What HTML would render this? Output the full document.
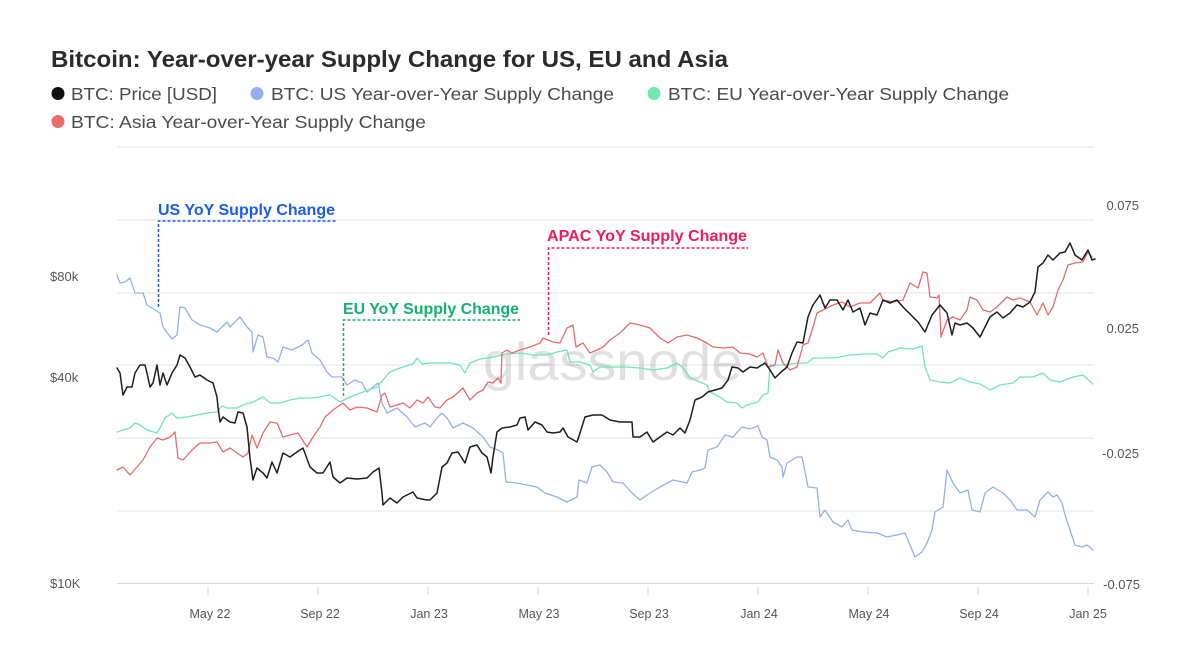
<!DOCTYPE html>
<html><head><meta charset="utf-8"><style>
html,body{margin:0;padding:0;background:#fff;}
svg{display:block;font-family:"Liberation Sans",sans-serif;}
</style></head><body>
<svg width="1192" height="671" viewBox="0 0 1192 671" xmlns="http://www.w3.org/2000/svg">
<rect width="1192" height="671" fill="#fff"/>
<text x="51" y="67" font-size="23" font-weight="bold" fill="#2b2b2b" textLength="677" lengthAdjust="spacingAndGlyphs">Bitcoin: Year-over-year Supply Change for US, EU and Asia</text>
<circle cx="58" cy="93.5" r="6.5" fill="#111"/>
<text x="71" y="100" font-size="17.5" fill="#4a4a4a" textLength="146" lengthAdjust="spacingAndGlyphs">BTC: Price [USD]</text>
<circle cx="257" cy="93.5" r="6.5" fill="#94b0ee"/>
<text x="271" y="100" font-size="17.5" fill="#4a4a4a" textLength="343" lengthAdjust="spacingAndGlyphs">BTC: US Year-over-Year Supply Change</text>
<circle cx="654" cy="93.5" r="6.5" fill="#6fe8ae"/>
<text x="668" y="100" font-size="17.5" fill="#4a4a4a" textLength="341" lengthAdjust="spacingAndGlyphs">BTC: EU Year-over-Year Supply Change</text>
<circle cx="58" cy="121.5" r="6.5" fill="#ea6b6b"/>
<text x="71" y="128" font-size="17.5" fill="#4a4a4a" textLength="355" lengthAdjust="spacingAndGlyphs">BTC: Asia Year-over-Year Supply Change</text>

<g stroke="#dde4e4" stroke-width="1">
<line x1="117" y1="147" x2="1094" y2="147"/>
<line x1="117" y1="220" x2="1094" y2="220"/>
<line x1="117" y1="293" x2="1094" y2="293"/>
<line x1="117" y1="365" x2="1094" y2="365"/>
<line x1="117" y1="438" x2="1094" y2="438"/>
<line x1="117" y1="511" x2="1094" y2="511"/>
<line x1="117" y1="583.5" x2="1094" y2="583.5" stroke="#d5dcdc"/>
</g>
<g stroke="#d4d4d4" stroke-width="1">
<line x1="208" y1="587" x2="208" y2="595"/>
<line x1="318" y1="587" x2="318" y2="595"/>
<line x1="428" y1="587" x2="428" y2="595"/>
<line x1="538" y1="587" x2="538" y2="595"/>
<line x1="648" y1="587" x2="648" y2="595"/>
<line x1="758" y1="587" x2="758" y2="595"/>
<line x1="868" y1="587" x2="868" y2="595"/>
<line x1="978" y1="587" x2="978" y2="595"/>
<line x1="1088" y1="587" x2="1088" y2="595"/>
</g>
<g font-size="12.5" fill="#555" text-anchor="middle">
<text x="210" y="618">May 22</text>
<text x="320" y="618">Sep 22</text>
<text x="429" y="618">Jan 23</text>
<text x="539" y="618">May 23</text>
<text x="649" y="618">Sep 23</text>
<text x="759" y="618">Jan 24</text>
<text x="869" y="618">May 24</text>
<text x="979" y="618">Sep 24</text>
<text x="1088" y="618">Jan 25</text>
</g>
<g font-size="13" fill="#555">
<text x="50" y="281">$80k</text>
<text x="50" y="382">$40k</text>
<text x="50" y="588">$10K</text>
</g>
<g font-size="13" fill="#555" text-anchor="end">
<text x="1139" y="210">0.075</text>
<text x="1139" y="333">0.025</text>
<text x="1139" y="458">-0.025</text>
<text x="1140" y="589">-0.075</text>
</g>

<text x="483" y="380" font-size="54" fill="#000" fill-opacity="0.12" textLength="260" lengthAdjust="spacingAndGlyphs">glassnode</text>

<g fill="none" stroke-linejoin="round" stroke-linecap="round">
<polyline stroke="#94b0ee" stroke-width="1.3" points="117,275 120,283 125,282 130,278 135,293 140,293 143,293 147,305 155,310 160,313 163,327 172,339 177,335 180,307 185,308 192,320 200,325 210,328 217,332 227,322 230,327 240,317 247,327 252,332 253,352 258,335 263,337 267,357 273,358 278,362 283,347 292,350 302,345 308,340 312,353 320,360 327,372 332,377 342,377 347,385 355,380 362,383 367,392 373,387 378,383 382,403 387,413 397,408 407,417 415,427 425,423 430,427 437,418 442,413 447,418 453,428 463,423 473,428 483,437 490,447 498,450 503,453 506,482 517,483 527,485 537,487 545,493 557,497 567,502 577,497 579,480 587,483 592,467 600,465 607,472 613,482 623,483 632,493 640,500 650,493 660,487 673,480 687,483 692,472 700,470 705,468 708,450 717,447 725,435 733,437 742,427 750,429 758,426 762,437 767,440 770,457 777,460 782,467 783,477 787,463 797,457 802,457 808,487 817,488 820,517 825,510 833,522 842,527 848,520 852,530 863,532 877,533 887,537 897,535 905,533 910,545 915,557 922,552 927,543 932,530 935,512 943,507 947,470 953,483 960,493 968,490 972,510 980,512 985,493 993,487 1003,493 1010,500 1017,510 1027,510 1035,517 1040,500 1048,492 1053,497 1057,495 1062,503 1065,515 1070,530 1075,545 1082,547 1087,545 1093,550"/>
<polyline stroke="#6fe8ae" stroke-width="1.3" points="117,432 123,430 130,428 135,423 140,425 147,430 157,433 160,428 165,418 172,413 177,418 187,417 197,415 207,413 217,412 222,406 227,408 237,408 243,405 253,402 263,397 270,403 280,403 290,400 300,398 310,398 320,397 330,395 340,402 350,397 363,392 377,387 383,380 390,372 400,368 413,364 417,358 422,364 430,363 437,363 450,363 460,365 465,373 470,363 480,359 493,357 507,354 520,353 533,355 547,355 557,352 567,350 570,362 580,362 590,365 593,372 600,367 613,367 627,367 640,368 653,370 667,368 677,363 683,368 690,378 700,382 707,385 710,392 720,397 727,402 737,403 742,408 747,405 758,402 763,395 768,393 770,365 783,365 797,363 807,363 813,358 827,358 840,357 850,355 863,354 877,354 883,358 888,352 900,348 913,349 922,346 925,367 930,380 940,382 950,383 960,378 970,382 980,384 990,390 1000,385 1013,383 1020,377 1033,377 1043,373 1050,380 1060,382 1073,377 1083,375 1093,384"/>
<polyline stroke="#ea6b6b" stroke-width="1.3" points="117,470 123,467 130,475 137,467 143,460 150,447 157,438 163,440 170,437 175,432 178,458 183,460 192,450 200,443 210,443 217,442 223,452 230,448 237,453 243,457 248,453 252,435 257,448 263,433 270,422 277,423 283,437 290,435 298,433 307,447 313,437 320,427 325,417 333,410 343,403 350,410 357,407 367,408 377,412 382,395 385,393 390,407 397,405 403,403 410,408 417,400 423,403 428,397 435,407 440,408 447,400 453,397 463,388 470,400 477,393 483,390 488,382 493,383 498,378 501,383 502,353 507,350 512,353 520,350 530,347 540,343 543,338 553,342 560,343 567,328 573,325 576,347 583,343 590,353 597,350 603,347 610,340 620,333 630,323 640,325 650,328 660,338 668,343 677,337 687,335 697,338 705,342 713,347 723,348 733,347 740,353 750,354 757,357 763,353 768,367 775,365 778,350 783,363 790,370 797,367 803,345 808,343 813,327 817,313 823,310 833,305 842,302 850,307 860,303 870,303 880,293 883,300 893,302 903,300 910,283 918,288 923,272 927,273 930,297 937,298 939,295 941,337 947,320 953,317 960,320 967,310 970,297 977,300 983,310 990,312 997,307 1007,297 1013,300 1020,298 1030,302 1037,315 1043,303 1048,315 1053,307 1058,290 1063,280 1068,265 1075,263 1083,262 1088,252 1092,257"/>
<polyline stroke="#1e1e1e" stroke-width="1.5" points="117,368 120,373 123,395 127,387 132,387 135,373 140,365 145,365 147,373 150,387 153,383 157,365 160,385 163,373 167,385 172,373 177,365 180,355 185,358 190,367 195,377 200,375 207,380 213,383 217,397 218,407 220,422 223,417 230,422 235,423 238,412 243,413 247,427 250,458 253,480 257,468 263,473 267,478 272,462 277,473 283,453 290,457 297,452 303,448 310,467 317,473 323,473 330,462 333,477 340,483 347,478 357,479 367,478 373,472 379,468 382,493 383,505 390,498 397,503 403,497 413,492 417,498 427,500 430,500 437,493 442,467 447,463 452,453 458,452 465,463 470,447 477,445 482,453 487,457 491,473 493,457 497,432 502,428 510,427 517,425 520,418 525,417 528,430 535,422 542,425 547,432 553,433 560,432 563,428 568,437 577,442 580,433 585,417 593,415 602,415 610,420 620,422 632,422 633,437 640,437 647,432 653,442 660,437 667,432 673,435 680,428 685,433 690,420 695,400 702,397 708,392 715,390 722,388 728,380 732,367 738,368 743,372 750,367 757,368 765,363 770,370 775,378 780,373 787,367 792,353 797,342 803,343 808,317 813,305 820,295 825,308 830,300 837,300 843,310 848,300 853,312 860,308 865,325 870,313 877,315 883,300 890,303 897,300 903,307 913,317 918,322 925,332 932,315 940,305 947,313 952,335 955,323 960,325 967,323 973,328 980,337 985,327 990,317 997,312 1003,318 1010,313 1017,305 1023,307 1030,302 1035,292 1038,267 1043,263 1048,255 1053,260 1060,253 1065,252 1070,243 1075,255 1082,260 1088,250 1092,260 1095,259"/>
</g>

<g fill="none" stroke-width="1.5" stroke-dasharray="3,2">
<polyline stroke="#1a5cf2" points="158.5,307 158.5,221 336,221"/>
<polyline stroke="#13b06e" points="343.5,396 343.5,320 520,320"/>
<polyline stroke="#f01a5c" points="548.5,335 548.5,248 748,248"/>
</g>
<g font-size="16" font-weight="bold">
<text x="158" y="215" fill="#1a5cf2" textLength="177" lengthAdjust="spacingAndGlyphs">US YoY Supply Change</text>
<text x="343" y="314" fill="#13b06e" textLength="176" lengthAdjust="spacingAndGlyphs">EU YoY Supply Change</text>
<text x="547" y="241" fill="#f01a5c" textLength="200" lengthAdjust="spacingAndGlyphs">APAC YoY Supply Change</text>
</g>
</svg>
</body></html>
